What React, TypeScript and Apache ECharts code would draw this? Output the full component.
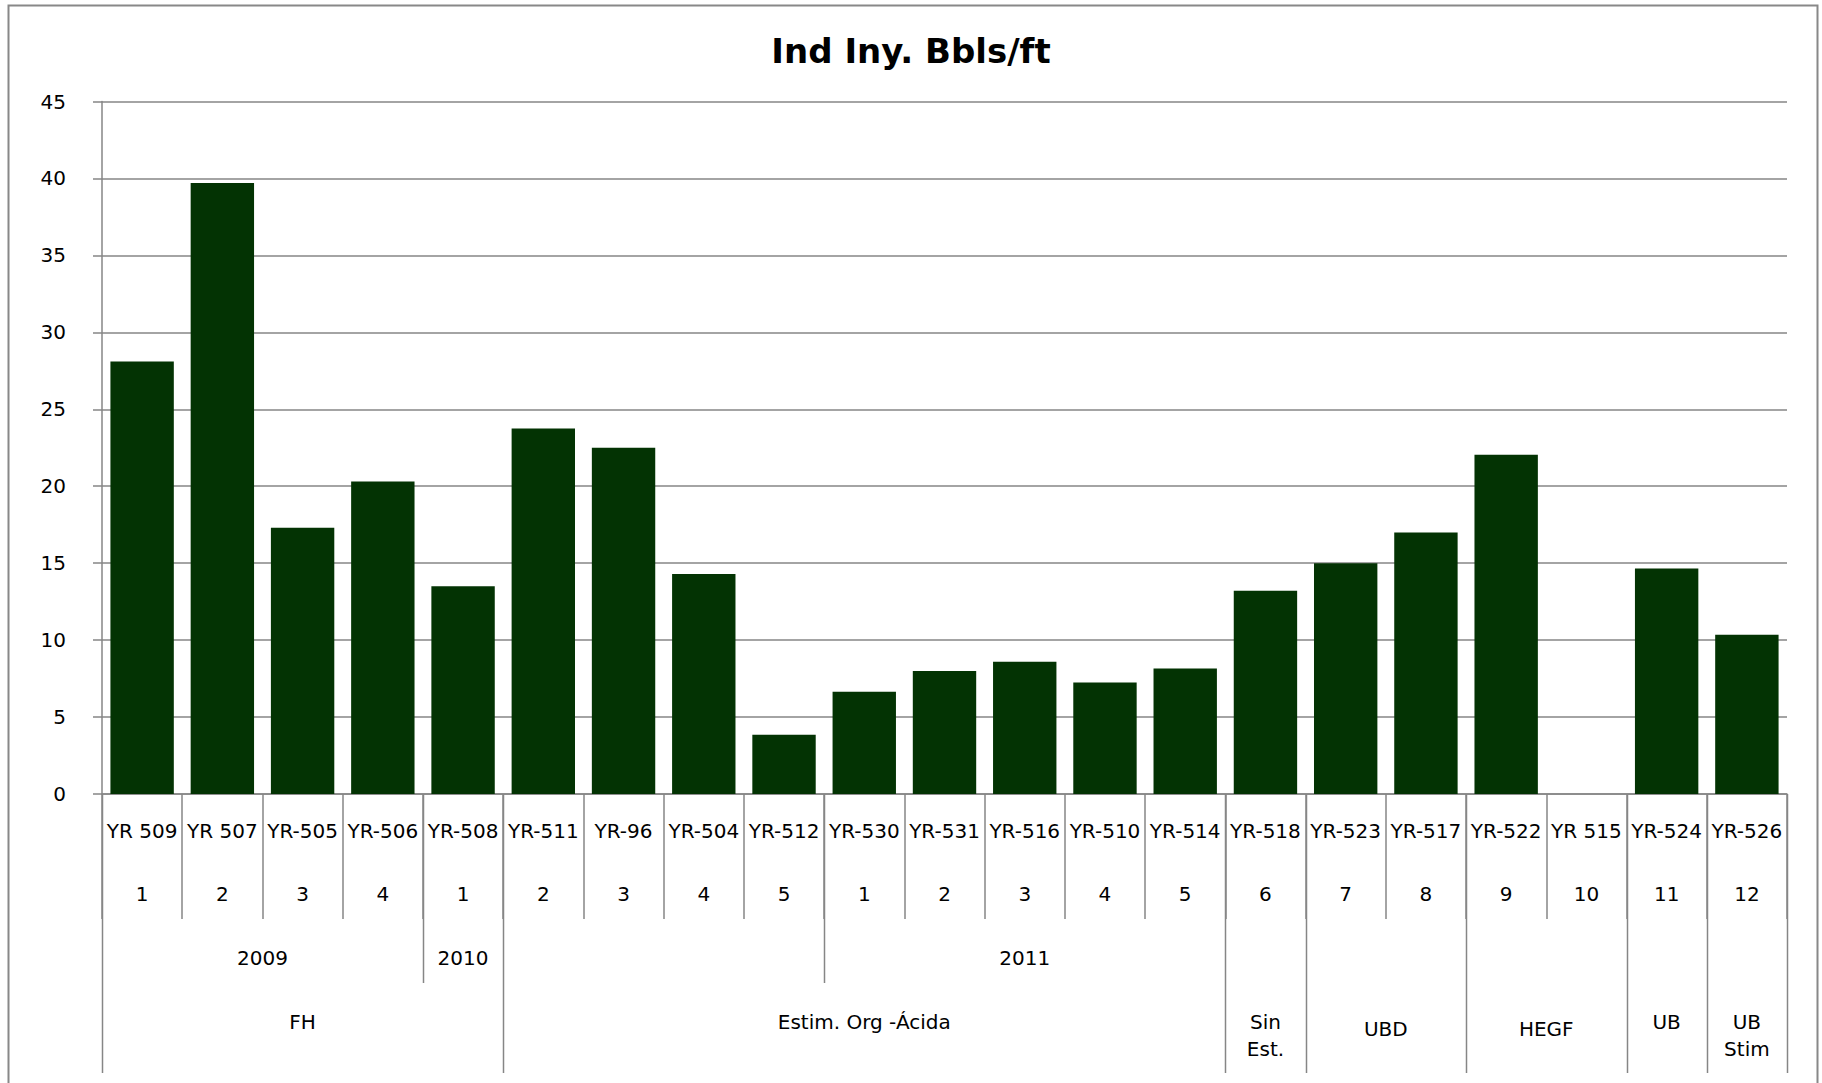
import React, { useEffect, useRef } from 'react';
import * as echarts from 'echarts';

// ---- data ----
const wells = ['YR 509', 'YR 507', 'YR-505', 'YR-506', 'YR-508', 'YR-511', 'YR-96', 'YR-504', 'YR-512', 'YR-530', 'YR-531', 'YR-516', 'YR-510', 'YR-514', 'YR-518', 'YR-523', 'YR-517', 'YR-522', 'YR 515', 'YR-524', 'YR-526'];
const values = [28.1, 39.7, 17.3, 20.3, 13.5, 23.75, 22.5, 14.3, 3.85, 6.65, 8.0, 8.6, 7.25, 8.15, 13.2, 15.0, 17.0, 22.05, null, 14.65, 10.35];
const seqNumbers = ['1', '2', '3', '4', '1', '2', '3', '4', '5', '1', '2', '3', '4', '5', '6', '7', '8', '9', '10', '11', '12'];
const yearLabels = ['2009', '2010', '2011'];
const yearStart = [0, 4, 9];
const yearEnd = [3, 4, 13];
const groupLabels = ['FH', 'Estim. Org -Ácida', 'Sin\nEst.', 'UBD', 'HEGF', 'UB', 'UB\nStim'];
const groupStart = [0, 5, 14, 15, 17, 19, 20];
const groupEnd = [4, 13, 14, 16, 18, 19, 20];
const yMin = 0;
const yMax = 45;
const yStep = 5;
const titleText = 'Ind Iny. Bbls/ft';

const FONT = 'DejaVu Sans';
const GRAY = '#868686';
const BAR = '#033303';
const FS = 20;

function buildGraphics(chart: any) {
  const c0 = chart.convertToPixel({ xAxisIndex: 0 }, 0) as number;
  const c1 = chart.convertToPixel({ xAxisIndex: 0 }, 1) as number;
  const bw = c1 - c0;
  const y0 = chart.convertToPixel({ yAxisIndex: 0 }, 0) as number;
  const bx = (b: number) => Math.round(c0 + (b - 0.5) * bw) + 0.5;
  const cx = (s: number, e: number) => (c0 + s * bw + c0 + e * bw) / 2;

  const g: any[] = [];
  // frame
  g.push({
    type: 'rect', silent: true, z: 0,
    shape: { x: 8.5, y: 5.5, width: 1809, height: 1200 },
    style: { fill: 'none', stroke: '#888888', lineWidth: 2 },
  });

  const yearB = new Set<number>();
  yearStart.forEach((s, i) => { yearB.add(s); yearB.add(yearEnd[i] + 1); });
  const groupB = new Set<number>();
  groupStart.forEach((s, i) => { groupB.add(s); groupB.add(groupEnd[i] + 1); });

  groupB.forEach((b) => {
    g.push({ type: 'line', silent: true, shape: { x1: bx(b), y1: y0, x2: bx(b), y2: y0 + 279 }, style: { stroke: GRAY, lineWidth: 1.5 } });
  });
  yearB.forEach((b) => {
    if (groupB.has(b)) return;
    g.push({ type: 'line', silent: true, shape: { x1: bx(b), y1: y0, x2: bx(b), y2: y0 + 189 }, style: { stroke: GRAY, lineWidth: 1.5 } });
  });

  // sequence numbers row
  seqNumbers.forEach((t, i) => {
    g.push({
      type: 'text', silent: true,
      x: c0 + i * bw, y: y0 + 100,
      style: { text: t, fill: '#000', font: `${FS}px "${FONT}"`, textAlign: 'center', textVerticalAlign: 'middle' },
    });
  });
  // years row
  yearLabels.forEach((t, i) => {
    g.push({
      type: 'text', silent: true,
      x: cx(yearStart[i], yearEnd[i]), y: y0 + 164,
      style: { text: t, fill: '#000', font: `${FS}px "${FONT}"`, textAlign: 'center', textVerticalAlign: 'middle' },
    });
  });
  // groups row
  groupLabels.forEach((t, i) => {
    const multi = t.indexOf('\n') >= 0;
    const span = groupEnd[i] - groupStart[i] + 1;
    const yc = multi ? y0 + 241.5 : (span === 2 ? y0 + 235 : y0 + 228);
    g.push({
      type: 'text', silent: true,
      x: cx(groupStart[i], groupEnd[i]), y: yc,
      style: { text: t, fill: '#000', font: `${FS}px "${FONT}"`, textAlign: 'center', textVerticalAlign: 'middle', lineHeight: 27 },
    });
  });
  return g;
}

export default function App() {
  const ref = useRef<HTMLDivElement>(null);
  useEffect(() => {
    document.body.style.margin = '0';
    const chart = echarts.init(ref.current!, null, { renderer: 'svg' });
    chart.setOption({
      animation: false,
      backgroundColor: '#ffffff',
      title: {
        text: titleText,
        left: 'center',
        top: 32,
        padding: 0,
        textStyle: { fontFamily: FONT, fontSize: 34, fontWeight: 'bold', color: '#000', lineHeight: 38 },
      },
      grid: { left: 102, right: 35, top: 101.5, bottom: 289, containLabel: false },
      xAxis: {
        type: 'category',
        data: wells,
        axisLine: { show: true, lineStyle: { color: GRAY, width: 1.5 } },
        axisTick: { show: true, interval: 0, length: 125, lineStyle: { color: GRAY, width: 1.5 } },
        axisLabel: { interval: 0, margin: 37, verticalAlign: 'middle', fontFamily: FONT, fontSize: FS, color: '#000' },
        splitLine: { show: false },
      },
      yAxis: {
        type: 'value',
        min: yMin,
        max: yMax,
        interval: yStep,
        axisLine: { show: true, lineStyle: { color: GRAY, width: 1.5 } },
        axisTick: { show: true, length: 9, lineStyle: { color: GRAY, width: 1.5 } },
        axisLabel: { margin: 36, fontFamily: FONT, fontSize: FS, color: '#000' },
        splitLine: { show: true, lineStyle: { color: GRAY, width: 1.5 } },
      },
      series: [
        {
          type: 'bar',
          data: values,
          barCategoryGap: '21%',
          itemStyle: { color: BAR },
        },
      ],
    });
    chart.setOption({ graphic: buildGraphics(chart) });
    return () => chart.dispose();
  }, []);
  return <div ref={ref} style={{ width: 1822, height: 1083 }} />;
}
